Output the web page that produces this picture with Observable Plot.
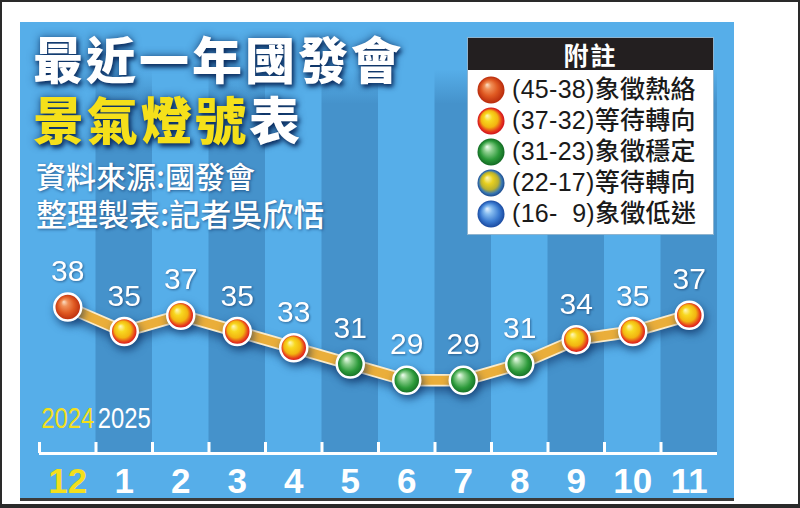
<!DOCTYPE html>
<html><head><meta charset="utf-8">
<script src="https://cdn.jsdelivr.net/npm/d3@7"></script>
<script src="https://cdn.jsdelivr.net/npm/@observablehq/plot@0.6"></script>
<style>
html,body{margin:0;padding:0;background:#fff;}
#wrap{position:relative;width:800px;height:508px;overflow:hidden;background:#fff;font-family:"Noto Sans CJK TC","Noto Sans CJK SC",sans-serif;}
#panel{position:absolute;left:20px;top:22px;width:714px;height:476px;background:#56aee9;border-bottom:3px solid #3b3b3b;}
#chart{position:absolute;left:0;top:0;}
#frameborder{position:absolute;left:0;top:0;width:800px;height:508px;box-sizing:border-box;border:2px solid #2a2a2a;border-bottom-width:4px;pointer-events:none;}
.title{position:absolute;line-height:1;white-space:nowrap;font-weight:900;color:#fff;
  text-shadow:2px 3px 4px rgba(8,40,90,.9),0 0 9px rgba(8,40,90,.7);}
.t1{left:33px;top:32px;font-size:50px;letter-spacing:3px;}
.t2{left:33px;top:93px;font-size:51px;letter-spacing:3px;}
.t2 .y{color:#f5e01a;}
.sub{position:absolute;left:36px;line-height:1;white-space:nowrap;color:#fff;font-weight:500;
  text-shadow:1px 1px 3px rgba(8,40,90,.6);}
.s1{top:160px;font-size:30px;}
.s2{top:197px;font-size:31px;}
#legend{position:absolute;left:467px;top:37px;width:247px;height:198px;background:#fff;box-sizing:border-box;border:1px solid #8fb4cf;}
#legend .lh{height:32px;background:#231f20;color:#fff;font-weight:700;font-size:25px;line-height:32px;text-align:center;letter-spacing:2px;}
#legend .rows{padding-top:4px;}
#legend .row{height:31px;display:flex;align-items:center;}
#legend .row svg{margin-left:9px;margin-right:7px;flex:none;}
#legend .row span{font-family:"Liberation Sans","Noto Sans CJK TC",sans-serif;font-size:25px;font-weight:500;color:#1a1a1a;white-space:pre;line-height:1;letter-spacing:0.3px;}
g[aria-description="line-shadow"]{filter:drop-shadow(0px 5px 5px rgba(5,35,85,.55));}
g[aria-description="points"]{filter:drop-shadow(2px 4px 4px rgba(5,35,85,.6));}
g[aria-description="values"]{filter:drop-shadow(1px 1px 1px rgba(0,20,60,.45));}
</style>
</head><body>
<div id="wrap">
  <svg width="0" height="0" style="position:absolute">
    <defs>
      <linearGradient id="stripe" x1="0" y1="0" x2="0" y2="1">
        <stop offset="0" stop-color="#4592cb" stop-opacity="0"/>
        <stop offset="0.11" stop-color="#4592cb" stop-opacity="0"/>
        <stop offset="0.19" stop-color="#4592cb" stop-opacity="1"/>
        <stop offset="1" stop-color="#4592cb" stop-opacity="1"/>
      </linearGradient>
      <radialGradient id="g-hot" cx="0.5" cy="0.5" r="0.5" fx="0.35" fy="0.3">
        <stop offset="0" stop-color="#fbe0c8"/>
        <stop offset="0.25" stop-color="#f09058"/>
        <stop offset="0.6" stop-color="#e05a22"/>
        <stop offset="1" stop-color="#b82a0c"/>
      </radialGradient>
      <radialGradient id="g-turnup" cx="0.5" cy="0.5" r="0.5" fx="0.35" fy="0.3">
        <stop offset="0" stop-color="#fff8c0"/>
        <stop offset="0.3" stop-color="#f8d820"/>
        <stop offset="0.62" stop-color="#f2b510"/>
        <stop offset="0.85" stop-color="#e63a1c"/>
        <stop offset="1" stop-color="#d0101c"/>
      </radialGradient>
      <radialGradient id="g-stable" cx="0.5" cy="0.5" r="0.5" fx="0.35" fy="0.3">
        <stop offset="0" stop-color="#f2fff2"/>
        <stop offset="0.3" stop-color="#8fd090"/>
        <stop offset="0.7" stop-color="#2c9a3a"/>
        <stop offset="1" stop-color="#136a24"/>
      </radialGradient>
      <radialGradient id="g-turndown" cx="0.5" cy="0.5" r="0.5" fx="0.35" fy="0.3">
        <stop offset="0" stop-color="#fff8c0"/>
        <stop offset="0.35" stop-color="#e8d020"/>
        <stop offset="0.65" stop-color="#b8b030"/>
        <stop offset="0.85" stop-color="#3a78b0"/>
        <stop offset="1" stop-color="#1a4a90"/>
      </radialGradient>
      <radialGradient id="g-low" cx="0.5" cy="0.5" r="0.5" fx="0.35" fy="0.3">
        <stop offset="0" stop-color="#e6f2ff"/>
        <stop offset="0.3" stop-color="#86bcf0"/>
        <stop offset="0.7" stop-color="#3a7ad0"/>
        <stop offset="1" stop-color="#1a4aa0"/>
      </radialGradient>
    </defs>
  </svg>
  <div id="panel"></div>
  <div id="chart"></div>
  <div class="title t1">最近一年國發會</div>
  <div class="title t2"><span class="y">景氣燈號</span>表</div>
  <div class="sub s1">資料來源:國發會</div>
  <div class="sub s2">整理製表:記者吳欣恬</div>
  <div id="legend"><div class="lh">附註</div><div class="rows"></div></div>
  <div id="frameborder"></div>
</div>
<script>
// ---- data ----
const months = ["12","1","2","3","4","5","6","7","8","9","10","11"];
const values = [38,35,37,35,33,31,29,29,31,34,35,37];
const yearLabels = ["2024","2025"];
const yearStartMonths = ["12","1"];
const legendTitle = "附註";
const legendRanges = ["(45-38)","(37-32)","(31-23)","(22-17)","(16-  9)"];
const legendTexts = ["象徵熱絡","等待轉向","象徵穩定","等待轉向","象徵低迷"];
const thresholds = [17,23,32,38];
const lightFills = ["url(#g-low)","url(#g-turndown)","url(#g-stable)","url(#g-turnup)","url(#g-hot)"];
const yearColors = ["#f3df1c","#ffffff"];

const data = months.map((m, i) => ({i, month: m, value: values[i]}));
const firstNewYear = months.indexOf("1");
const yDomain = [20, 73];
const numFont = "Liberation Sans, Arial, sans-serif";
const years = yearLabels.map((y, k) => ({year: y, pos: months.indexOf(yearStartMonths[k]) + 0.5, color: yearColors[k]}));

const chart = Plot.plot({
  width: 800, height: 508,
  marginTop: 22, marginBottom: 55, marginLeft: 39, marginRight: 83,
  style: {background: "none", overflow: "visible"},
  x: {domain: [0, months.length], axis: null},
  y: {domain: yDomain, axis: null},
  color: {type: "threshold", domain: thresholds, range: lightFills},
  marks: [
    Plot.rect(d3.range(months.length).filter(i => i % 2 === 1), {
      x1: d => d, x2: d => d + 1, y1: yDomain[0], y2: yDomain[1], fill: "url(#stripe)"
    }),
    Plot.ruleY([yDomain[0]], {stroke: "#fff", strokeWidth: 3}),
    Plot.ruleX(d3.range(months.length), {stroke: "#fff", strokeWidth: 3, insetTop: 420}),
    Plot.line(data, {x: d => d.i + 0.5, y: "value", stroke: "#fbeccb", strokeWidth: 12.5, ariaDescription: "line-shadow"}),
    Plot.line(data, {x: d => d.i + 0.5, y: "value", stroke: "#eaae3a", strokeWidth: 9}),
    Plot.dot(data, {x: d => d.i + 0.5, y: "value", r: 13.5, fill: "value", stroke: "#fff", strokeWidth: 2.5, ariaDescription: "points"}),
    Plot.text(data, {x: d => d.i + 0.5, y: "value", text: d => String(d.value), dy: -26, lineAnchor: "bottom",
      fill: "#fff", fontSize: 30, fontFamily: numFont, ariaDescription: "values"}),
    Plot.text(years.slice(0, 1), {x: "pos", text: "year", frameAnchor: "bottom", dy: -26, lineAnchor: "bottom",
      fill: yearColors[0], fontSize: 30, fontFamily: numFont, ariaDescription: "years"}),
    Plot.text(years.slice(1), {x: "pos", text: "year", frameAnchor: "bottom", dy: -26, lineAnchor: "bottom",
      fill: yearColors[1], fontSize: 30, fontFamily: numFont, ariaDescription: "years"}),
    Plot.text(data, {filter: d => d.i < firstNewYear, x: d => d.i + 0.5, text: "month", frameAnchor: "bottom",
      dy: 39, lineAnchor: "bottom", fill: yearColors[0], fontSize: 35, fontWeight: "bold", fontFamily: numFont}),
    Plot.text(data, {filter: d => d.i >= firstNewYear, x: d => d.i + 0.5, text: "month", frameAnchor: "bottom",
      dy: 39, lineAnchor: "bottom", fill: yearColors[1], fontSize: 35, fontWeight: "bold", fontFamily: numFont})
  ]
});
// condensed year labels
d3.select(chart).selectAll('g[aria-description="years"] text')
  .attr("textLength", 53).attr("lengthAdjust", "spacingAndGlyphs");
document.getElementById("chart").appendChild(chart);

// legend (HTML)
d3.select("#legend .lh").text(legendTitle);
const legendFills = lightFills.slice().reverse();
const rows = d3.select("#legend .rows").selectAll("div").data(legendRanges).join("div").attr("class", "row");
rows.append("svg").attr("width", 28).attr("height", 28)
  .append("circle").attr("cx", 14).attr("cy", 14).attr("r", 13.5)
  .attr("fill", (d, i) => legendFills[i]);
rows.append("span").text((d, i) => d + legendTexts[i]);
</script>
</body></html>
